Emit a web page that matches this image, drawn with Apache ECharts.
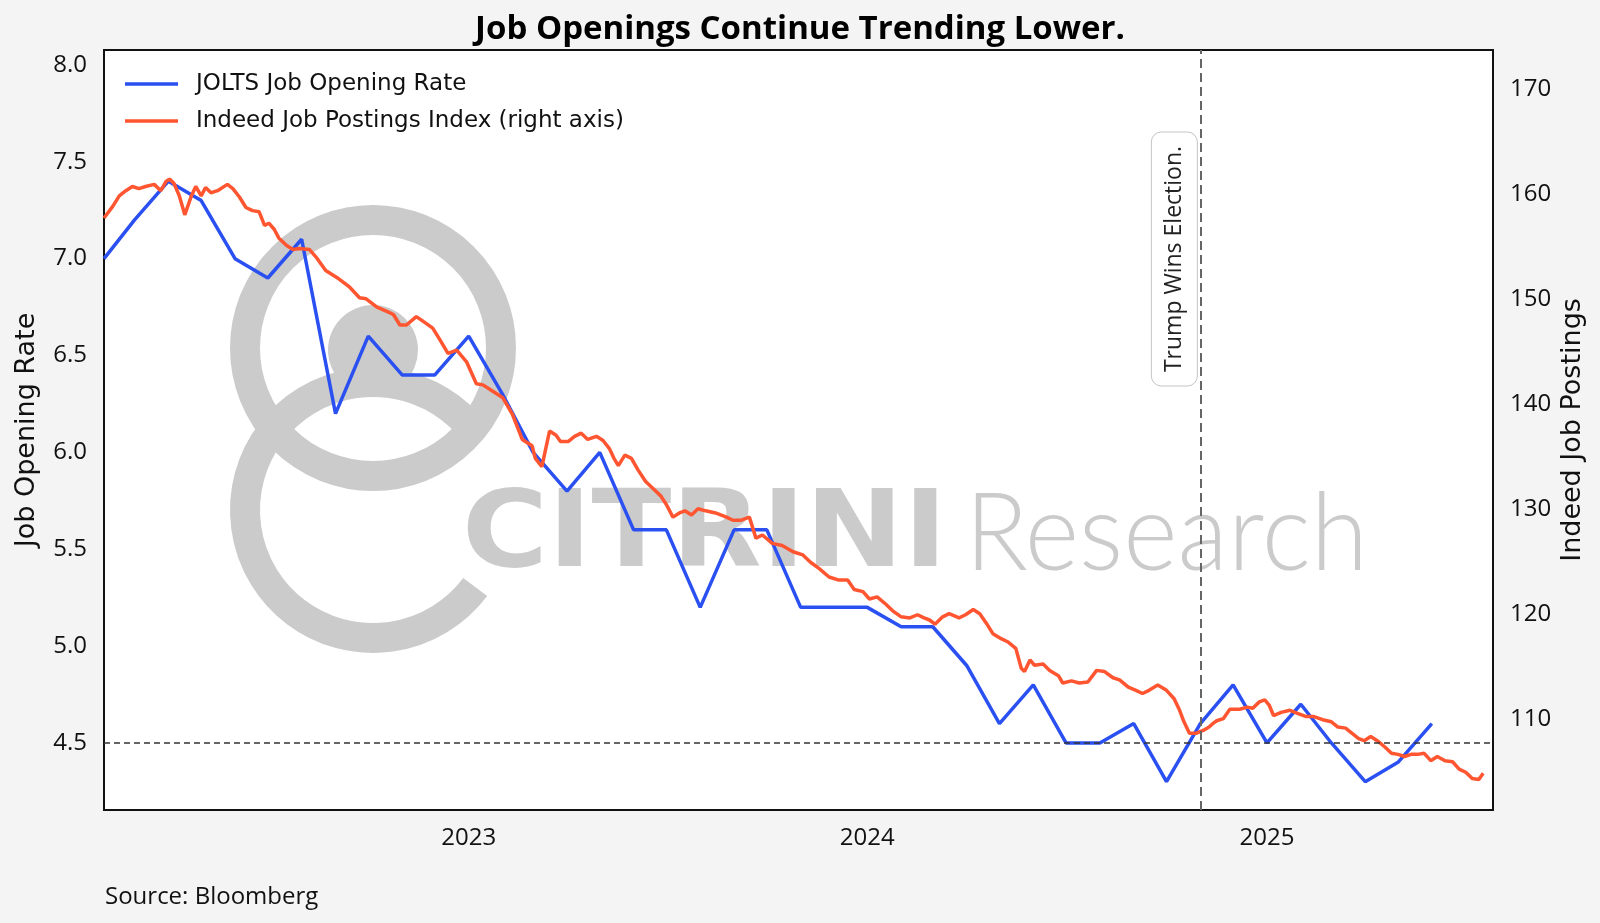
<!DOCTYPE html>
<html><head><meta charset="utf-8">
<script src="https://cdn.jsdelivr.net/npm/echarts@6/dist/echarts.min.js"></script>
<style>html,body{margin:0;padding:0;background:#f4f4f4;}#chart{width:1600px;height:923px;}</style>
</head><body><div id="chart"></div>
<script>
const titleText = 'Job Openings Continue Trending Lower.';
const sourceText = 'Source: Bloomberg';
const joltsName = 'JOLTS Job Opening Rate';
const indeedName = 'Indeed Job Postings Index (right axis)';
const leftAxisName = 'Job Opening Rate';
const rightAxisName = 'Indeed Job Postings';
const annotationText = 'Trump Wins Election.';
const electionDate = '2024-11-01';
const thresholdRate = 4.5;
const xRange = ['2022-02-01', '2025-07-27'];
const xTickYears = ['2023', '2024', '2025'];
const leftTicks = [4.5, 5.0, 5.5, 6.0, 6.5, 7.0, 7.5, 8.0];
const rightTicks = [110, 120, 130, 140, 150, 160, 170];

const joltsDates = ['2022-02-01','2022-03-01','2022-04-01','2022-05-01','2022-06-01','2022-07-01','2022-08-01','2022-09-01','2022-10-01','2022-11-01','2022-12-01',
'2023-01-01','2023-02-01','2023-03-01','2023-04-01','2023-05-01','2023-06-01','2023-07-01','2023-08-01','2023-09-01','2023-10-01','2023-11-01','2023-12-01',
'2024-01-01','2024-02-01','2024-03-01','2024-04-01','2024-05-01','2024-06-01','2024-07-01','2024-08-01','2024-09-01','2024-10-01','2024-11-01','2024-12-01',
'2025-01-01','2025-02-01','2025-03-01','2025-04-01','2025-05-01','2025-06-01'];
const joltsValues = [7.0,7.2,7.4,7.3,7.0,6.9,7.1,6.2,6.6,6.4,6.4,
6.6,6.3,6.0,5.8,6.0,5.6,5.6,5.2,5.6,5.6,5.2,5.2,
5.2,5.1,5.1,4.9,4.6,4.8,4.5,4.5,4.6,4.3,4.6,4.8,
4.5,4.7,4.5,4.3,4.4,4.6];

const indeedDates = ['2022-02-01','2022-02-09','2022-02-15','2022-02-21','2022-02-27','2022-03-05','2022-03-11','2022-03-19','2022-03-25','2022-03-30',
'2022-04-02','2022-04-06','2022-04-11','2022-04-16','2022-04-22','2022-04-26','2022-05-01','2022-05-05','2022-05-10','2022-05-16','2022-05-25','2022-05-30',
'2022-06-05','2022-06-11','2022-06-17','2022-06-23','2022-06-28','2022-07-02','2022-07-07','2022-07-11','2022-07-18','2022-07-24','2022-07-30',
'2022-08-08','2022-08-14','2022-08-23','2022-09-04','2022-09-14','2022-09-23','2022-09-29','2022-10-09','2022-10-18','2022-10-24','2022-10-30',
'2022-11-05','2022-11-14','2022-11-21','2022-11-29','2022-12-05','2022-12-13','2022-12-21','2022-12-30',
'2023-01-08','2023-01-14','2023-01-23','2023-02-01','2023-02-10','2023-02-19','2023-02-28','2023-03-03','2023-03-09','2023-03-16','2023-03-22','2023-03-26',
'2023-04-02','2023-04-08','2023-04-14','2023-04-20','2023-04-28','2023-05-04','2023-05-10','2023-05-14','2023-05-18','2023-05-24','2023-05-30',
'2023-06-05','2023-06-12','2023-06-20','2023-06-26','2023-07-01','2023-07-07','2023-07-13','2023-07-18','2023-07-24','2023-07-30',
'2023-08-06','2023-08-15','2023-08-25','2023-08-31','2023-09-07','2023-09-15','2023-09-21','2023-09-27','2023-10-06','2023-10-15','2023-10-25',
'2023-11-03','2023-11-10','2023-11-18','2023-11-27','2023-12-06','2023-12-14','2023-12-20','2023-12-28',
'2024-01-03','2024-01-10','2024-01-18','2024-01-24','2024-02-01','2024-02-09','2024-02-16','2024-02-22','2024-02-27','2024-03-03','2024-03-10','2024-03-16','2024-03-25','2024-03-31',
'2024-04-07','2024-04-13','2024-04-19','2024-04-25','2024-05-03','2024-05-09','2024-05-16','2024-05-21','2024-05-24','2024-05-29',
'2024-06-02','2024-06-10','2024-06-16','2024-06-24','2024-06-28','2024-07-06','2024-07-13','2024-07-21','2024-07-29',
'2024-08-05','2024-08-13','2024-08-19','2024-08-27','2024-09-03','2024-09-09','2024-09-15','2024-09-23','2024-10-01','2024-10-08','2024-10-13','2024-10-17','2024-10-22','2024-10-28',
'2024-11-04','2024-11-09','2024-11-12','2024-11-16','2024-11-22','2024-11-28','2024-12-07','2024-12-14','2024-12-19','2024-12-25','2024-12-30',
'2025-01-03','2025-01-07','2025-01-14','2025-01-22','2025-01-29','2025-02-06','2025-02-13','2025-02-21','2025-03-01','2025-03-07','2025-03-14','2025-03-20','2025-03-26','2025-03-31',
'2025-04-06','2025-04-12','2025-04-19','2025-04-25','2025-05-01','2025-05-07','2025-05-13','2025-05-19','2025-05-25','2025-05-31',
'2025-06-06','2025-06-13','2025-06-20','2025-06-26','2025-07-02','2025-07-08','2025-07-14','2025-07-18'];
const indeedValues = [157.7,158.8,159.8,160.3,160.7,160.5,160.7,160.9,160.3,161.2,
161.4,161.0,159.8,158.0,159.8,160.7,159.8,160.6,160.1,160.3,160.9,160.5,
159.7,158.7,158.4,158.3,157.0,157.2,156.6,155.8,155.1,154.7,154.8,
154.7,154.0,152.7,151.9,151.1,150.1,150.0,149.2,148.8,148.5,147.5,
147.5,148.3,147.8,147.2,146.2,144.8,145.1,144.0,
141.9,141.8,141.2,140.6,139.0,136.6,136.0,134.8,134.0,137.4,137.0,136.4,
136.4,136.9,137.2,136.6,136.9,136.5,135.7,134.8,134.1,135.1,134.8,
133.7,132.6,131.8,131.2,130.4,129.2,129.6,129.8,129.4,130.0,
129.8,129.6,129.2,128.9,128.9,129.2,127.2,127.5,126.7,126.5,125.9,
125.6,124.9,124.3,123.5,123.2,123.2,122.3,122.1,
121.4,121.6,120.9,120.3,119.7,119.6,119.9,119.6,119.4,119.0,119.7,120.0,119.6,119.9,
120.4,120.0,119.1,118.1,117.6,117.3,116.7,114.8,114.5,115.6,
115.1,115.2,114.6,114.1,113.4,113.6,113.4,113.5,114.6,
114.5,113.9,113.7,113.0,112.7,112.4,112.7,113.2,112.7,111.9,110.8,109.7,108.6,108.6,
108.9,109.2,109.5,109.8,110.0,110.9,110.9,111.1,111.0,111.6,111.8,
111.3,110.3,110.6,110.8,110.5,110.2,110.2,109.9,109.7,109.2,109.1,108.6,108.1,107.9,
108.3,107.9,107.3,106.7,106.6,106.4,106.6,106.6,106.7,106.0,
106.4,106.0,105.9,105.2,104.9,104.3,104.2,104.8];

const FONT = "'Open Sans', 'Noto Sans', sans-serif";
const FONT_WIDE = "'DejaVu Sans', 'Open Sans', sans-serif";
const BLUE = '#2a50f2';
const ORANGE = '#ff5530';
const WM = '#cbcbcb';

function toTs(s) { const p = s.split('-').map(Number); return Date.UTC(p[0], p[1] - 1, p[2]); }

const chart = echarts.init(document.getElementById('chart'), null, { renderer: 'canvas' });

const option = {
  backgroundColor: '#f4f4f4',
  animation: false,
  title: { text: titleText, left: 'center', top: 13, padding: 0,
    textStyle: { fontFamily: FONT, fontSize: 33, fontWeight: 'bold', color: '#000' } },
  legend: { orient: 'vertical', left: 125, top: 72, padding: 0, itemWidth: 53, itemHeight: 3.5, itemGap: 13,
    icon: 'rect',
    textStyle: { fontFamily: FONT_WIDE, fontSize: 23, color: '#111', lineHeight: 24, padding: [0, 0, 0, 13] },
    data: [joltsName, indeedName] },
  grid: { left: 104, right: 107, top: 50, bottom: 113, show: true, backgroundColor: '#fff', borderColor: '#111', borderWidth: 2 },
  xAxis: { type: 'value', min: toTs(xRange[0]), max: toTs(xRange[1]),
    axisLine: { show: false }, axisTick: { show: false }, splitLine: { show: false },
    axisLabel: { customValues: xTickYears.map(y => toTs(y + '-01-01')), formatter: v => String(new Date(v).getUTCFullYear()),
      fontFamily: FONT, fontSize: 24, color: '#111', margin: 16 } },
  yAxis: [
    { type: 'value', position: 'left', min: 4.154, max: 8.077,
      name: leftAxisName, nameLocation: 'middle', nameGap: 64, nameRotate: 90, nameMoveOverlap: false,
      nameTextStyle: { fontFamily: FONT_WIDE, fontSize: 27, color: '#111' },
      axisLine: { show: false }, axisTick: { show: false }, splitLine: { show: false },
      axisLabel: { customValues: leftTicks, formatter: v => v.toFixed(1), fontFamily: FONT, fontSize: 24, color: '#111', margin: 17 } },
    { type: 'value', position: 'right', min: 101.3, max: 173.7,
      name: rightAxisName, nameLocation: 'middle', nameGap: 66, nameRotate: 90, nameMoveOverlap: false,
      nameTextStyle: { fontFamily: FONT_WIDE, fontSize: 27, color: '#111' },
      axisLine: { show: false }, axisTick: { show: false }, splitLine: { show: false },
      axisLabel: { customValues: rightTicks, formatter: v => String(v), fontFamily: FONT, fontSize: 24, color: '#111', margin: 17 } }
  ],
  series: [
    { name: joltsName, type: 'line', yAxisIndex: 0, z: 3,
      data: joltsDates.map((d, i) => [toTs(d), joltsValues[i]]),
      showSymbol: false, symbol: 'none',
      lineStyle: { color: BLUE, width: 3.5 }, itemStyle: { color: BLUE },
      markLine: { silent: true, symbol: 'none', label: { show: false },
        data: [
          { yAxis: thresholdRate, lineStyle: { color: '#333', width: 1.5, type: [6, 4] } },
          { xAxis: toTs(electionDate), lineStyle: { color: '#666', width: 2, type: [9, 5] } }
        ] } },
    { name: indeedName, type: 'line', yAxisIndex: 1, z: 4,
      data: indeedDates.map((d, i) => [toTs(d), indeedValues[i]]),
      showSymbol: false, symbol: 'none',
      lineStyle: { color: ORANGE, width: 3.5 }, itemStyle: { color: ORANGE } }
  ]
};
chart.setOption(option);

const ctx = document.createElement('canvas').getContext('2d');
function widthOf(font, text) { ctx.font = font; return ctx.measureText(text).width; }
const fontC = "bold 107px 'DejaVu Sans'";
const fontR = "300 109px 'Lato'";
const sC = 485 / widthOf(fontC, 'CITRINI');
const sR = 403 / widthOf(fontR, 'Research');

const lineX = chart.convertToPixel({ xAxisIndex: 0 }, toTs(electionDate));
const deg = Math.PI / 180;

chart.setOption({
  graphic: [
    { type: 'circle', z: 1, silent: true, shape: { cx: 373, cy: 348, r: 128 }, style: { fill: null, stroke: WM, lineWidth: 30 } },
    { type: 'circle', z: 1, silent: true, shape: { cx: 373, cy: 350, r: 45 }, style: { fill: WM } },
    { type: 'arc', z: 1, silent: true, shape: { cx: 373, cy: 510, r: 128, startAngle: 37 * deg, endAngle: 318 * deg, clockwise: true }, style: { fill: null, stroke: WM, lineWidth: 30 } },
    { type: 'text', z: 1, silent: true, x: 462, y: 538, scaleX: sC, style: { text: 'CITRINI', font: fontC, fill: WM, align: 'left', verticalAlign: 'middle' } },
    { type: 'text', z: 1, silent: true, x: 965, y: 535, scaleX: sR, style: { text: 'Research', font: fontR, fill: WM, align: 'left', verticalAlign: 'middle' } },
    { type: 'rect', z: 10, silent: true, shape: { x: lineX - 49, y: 132, width: 46, height: 254, r: 10 }, style: { fill: '#fff', stroke: '#c4c4c4', lineWidth: 1 } },
    { type: 'text', z: 11, silent: true, x: lineX - 26, y: 259, rotation: Math.PI / 2, style: { text: annotationText, font: "23px 'Open Sans'", fill: '#222', align: 'center', verticalAlign: 'middle' } },
    { type: 'text', z: 1, silent: true, x: 105, y: 897, style: { text: sourceText, font: "24px 'Open Sans'", fill: '#111', align: 'left', verticalAlign: 'middle' } }
  ]
});
</script></body></html>
